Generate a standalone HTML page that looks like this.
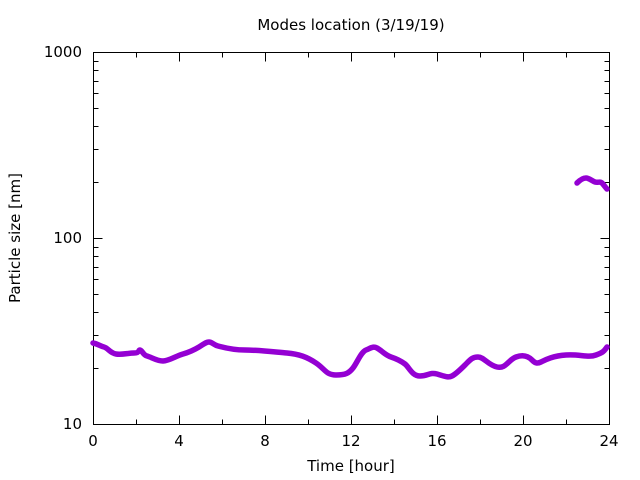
<!DOCTYPE html><html><head><style>body{margin:0;background:#fff}svg{display:block}text{font-family:"DejaVu Sans","Liberation Sans",sans-serif;font-size:15px;fill:#000}</style></head><body>
<svg width="640" height="480" xmlns="http://www.w3.org/2000/svg">
<rect width="640" height="480" fill="#fff"/>
<g stroke="#000" stroke-width="1" fill="none">
<rect x="93.5" y="52.5" width="516" height="372"/>
<path d="
M93.5 52.5h9M609.5 52.5h-9M93.5 238.5h9M609.5 238.5h-9M93.5 424.5h9M609.5 424.5h-9
M93.5 368.5h5M609.5 368.5h-5M93.5 335.5h5M609.5 335.5h-5M93.5 312.5h5M609.5 312.5h-5M93.5 294.5h5M609.5 294.5h-5M93.5 279.5h5M609.5 279.5h-5M93.5 267.5h5M609.5 267.5h-5M93.5 256.5h5M609.5 256.5h-5M93.5 247.5h5M609.5 247.5h-5
M93.5 182.5h5M609.5 182.5h-5M93.5 149.5h5M609.5 149.5h-5M93.5 126.5h5M609.5 126.5h-5M93.5 108.5h5M609.5 108.5h-5M93.5 93.5h5M609.5 93.5h-5M93.5 81.5h5M609.5 81.5h-5M93.5 70.5h5M609.5 70.5h-5M93.5 61.5h5M609.5 61.5h-5
M93.5 424.5v-9M93.5 52.5v9M179.5 424.5v-9M179.5 52.5v9M265.5 424.5v-9M265.5 52.5v9M351.5 424.5v-9M351.5 52.5v9M437.5 424.5v-9M437.5 52.5v9M523.5 424.5v-9M523.5 52.5v9M609.5 424.5v-9M609.5 52.5v9
M136.5 424.5v-5M136.5 52.5v5M222.5 424.5v-5M222.5 52.5v5M308.5 424.5v-5M308.5 52.5v5M394.5 424.5v-5M394.5 52.5v5M480.5 424.5v-5M480.5 52.5v5M566.5 424.5v-5M566.5 52.5v5"/>
</g>
<g stroke="#9400d3" stroke-width="5.5" fill="none" stroke-linejoin="round" stroke-linecap="round">
<path d="M93,343 C98,344 100,346 104,347 S110,353 116,354 S128,353 134,353 S138,350 140,350 S143,355 147,356 S157,361 163,361 S176,356 183,354 S194,350 199,347 S206,342 209,342 S214,345 218,346 S232,350 245,350 S275,352 287,353 S307,357 316,363 S326,375 336,375 S349,373 353,368 S361,352 366,350 S373,346 377,348 S385,355 391,357 S401,361 405,364 S412,376 420,376 S430,372 437,374 S448,378 452,376 S460,370 465,365 S472,357 478,357 S488,365 497,367 S508,360 516,357 S529,357 532,360 S537,364 541,362 S552,356 566,355 S588,358 596,355 S604,351 607,347"/>
<path d="M577,183 C580,180 583,178 586,178 S592,181 595,182 S600,181 602,183 S605,187 607,189"/>
</g>
<g text-anchor="end"><text x="82" y="57">1000</text><text x="82" y="243">100</text><text x="82" y="429">10</text></g>
<g text-anchor="middle">
<text x="93" y="446">0</text><text x="179" y="446">4</text><text x="265" y="446">8</text><text x="351" y="446">12</text><text x="437" y="446">16</text><text x="523" y="446">20</text><text x="609" y="446">24</text>
<text x="351" y="471">Time [hour]</text>
<text x="351" y="30">Modes location (3/19/19)</text>
<text transform="translate(20,238) rotate(-90)">Particle size [nm]</text>
</g>
</svg></body></html>
